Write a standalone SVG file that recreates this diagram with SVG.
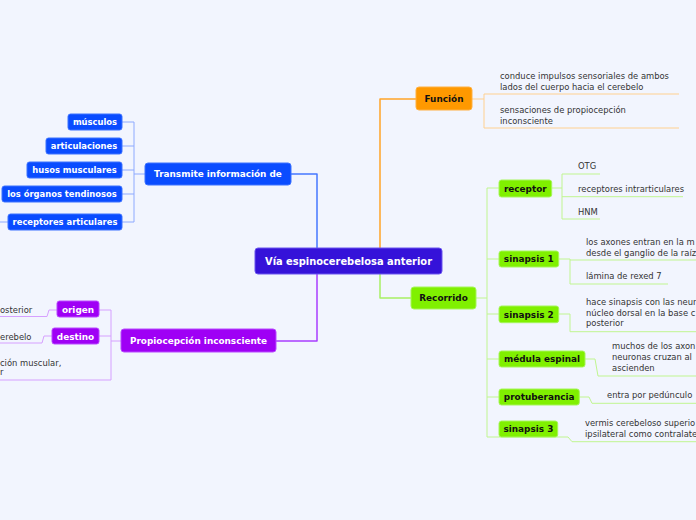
<svg xmlns="http://www.w3.org/2000/svg" width="696" height="520" viewBox="0 0 696 520">
<style>
.b{font-family:"DejaVu Sans",Verdana,sans-serif;font-weight:bold;text-anchor:middle}
.t{font-family:"DejaVu Sans",Verdana,sans-serif;font-size:8.4px;fill:#333}
.w{fill:#fff}
.k{fill:#111}
.nb{fill:#0a4cff;stroke:#3d72ff;stroke-width:1}
.np{fill:#9f00f5;stroke:#b848ff;stroke-width:1}
.ng{fill:#80f000;stroke:#a6f55a;stroke-width:1}
.no{fill:#ff9900;stroke:#ffb040;stroke-width:1}
.l{fill:none;stroke-linejoin:round}
</style>
<rect width="696" height="520" fill="#f2f5fe"/>
<g id="connectors">
 <path class="l" d="M291,174 H317 V248" stroke="#4577ff" stroke-width="1.5"/>
 <path class="l" d="M276,341 H317 V274" stroke="#a93cff" stroke-width="1.5"/>
 <path class="l" d="M380,248 V99 H416" stroke="#ffa428" stroke-width="1.5"/>
 <path class="l" d="M380,274 V298 H411" stroke="#a8f064" stroke-width="1.5"/>
 <g stroke="#8eaaff" stroke-width="1" class="l">
  <path d="M145,174 H134 M134,122 V222 M122,122 H134 M122,146 H134 M122,170 H134 M122,194 H134 M122,222 H134 M0,222 H8"/>
 </g>
 <g stroke="#d6a0ff" stroke-width="1" class="l">
  <path d="M121,341 H111 M111,310 V380 M99,310 H111 M99,336 H111 M0,380 H111 M57,310 H49 L47,316.5 H0 M52,336 H44 L42,343 H0"/>
 </g>
 <g stroke="#ffd090" stroke-width="1" class="l">
  <path d="M472,99 H484 M484,94 V128 M484,94 H679 M484,128 H679"/>
 </g>
 <g stroke="#c0f590" stroke-width="1" class="l">
  <path d="M476,298 H487 M487,188 V437 M487,188 H499 M487,259 H499 M487,314 H499 M487,359 H499 M487,397 H499 M487,437 H568 L572,441.7 H696"/>
  <path d="M551.7,188 H562 M562,174 V219 M562,174 H600 M562,196.7 H683 M562,219 H600"/>
  <path d="M558.7,259 H570 M570,260 H696 M570,259 V284 H668"/>
  <path d="M558.7,314 H570 V331.7 H696"/>
  <path d="M585,359 H595 L598,376 H696"/>
  <path d="M579,397 H589 L592,403.3 H696"/>
 </g>
</g>
<g id="central">
 <rect x="255" y="248" width="187" height="26" rx="3" fill="#3512d9" stroke="#6a55ee"/>
 <text class="b w" x="348.5" y="265" font-size="9.9">Vía espinocerebelosa anterior</text>
</g>
<g id="transmite">
 <rect class="nb" x="145" y="163" width="146" height="22" rx="3"/>
 <text class="b w" x="218" y="177.3" font-size="8.9">Transmite información de</text>
</g>
<g id="musculos"><rect class="nb" x="68" y="114" width="54" height="16" rx="2.5"/><text class="b w" x="95" y="125" font-size="8.4">músculos</text></g>
<g id="articulaciones"><rect class="nb" x="46" y="138" width="76" height="16" rx="2.5"/><text class="b w" x="84" y="149" font-size="8.4">articulaciones</text></g>
<g id="husos"><rect class="nb" x="27" y="162" width="95" height="16" rx="2.5"/><text class="b w" x="74.5" y="173" font-size="8.4">husos musculares</text></g>
<g id="organos"><rect class="nb" x="2" y="186" width="120" height="16" rx="2.5"/><text class="b w" x="62" y="197" font-size="8.4">los órganos tendinosos</text></g>
<g id="receptores-art"><rect class="nb" x="8" y="214" width="114" height="16" rx="2.5"/><text class="b w" x="65" y="225" font-size="8.4">receptores articulares</text></g>
<g id="propiocepcion">
 <rect class="np" x="121" y="329" width="155" height="23" rx="3"/>
 <text class="b w" x="198.5" y="344" font-size="8.9">Propiocepción inconsciente</text>
</g>
<g id="origen"><rect class="np" x="57" y="301" width="42" height="16" rx="2.5"/><text class="b w" x="78" y="312.5" font-size="8.9">origen</text>
 <text class="t" x="0" y="313">osterior</text></g>
<g id="destino"><rect class="np" x="52" y="328" width="47" height="16" rx="2.5"/><text class="b w" x="75.5" y="339.5" font-size="8.9">destino</text>
 <text class="t" x="0" y="339.5">erebelo</text></g>
<g id="propio-3">
 <text class="t" x="0" y="365.5">ción muscular,</text>
 <text class="t" x="0" y="375">r</text>
</g>
<g id="funcion">
 <rect class="no" x="416" y="87" width="56" height="23" rx="3"/>
 <text class="b k" x="444" y="102" font-size="8.9">Función</text>
 <text class="t" x="500" y="79">conduce impulsos sensoriales de ambos</text>
 <text class="t" x="500" y="89.5">lados del cuerpo hacia el cerebelo</text>
 <text class="t" x="500" y="113.3">sensaciones de propiocepción</text>
 <text class="t" x="500" y="123.8">inconsciente</text>
</g>
<g id="recorrido">
 <rect class="ng" x="411" y="287" width="65" height="22" rx="3"/>
 <text class="b k" x="443.5" y="301.3" font-size="8.9">Recorrido</text>
</g>
<g id="receptor"><rect class="ng" x="499" y="180" width="52.7" height="17" rx="2.5"/><text class="b k" x="525.3" y="191.7" font-size="8.9">receptor</text>
 <text class="t" x="578" y="168.7">OTG</text>
 <text class="t" x="578" y="192">receptores intrarticulares</text>
 <text class="t" x="578" y="215">HNM</text></g>
<g id="sinapsis1"><rect class="ng" x="499" y="251" width="59.7" height="16" rx="2.5"/><text class="b k" x="528.8" y="262.2" font-size="8.9">sinapsis 1</text>
 <text class="t" x="586" y="245.3">los axones entran en la m</text>
 <text class="t" x="586" y="256.3">desde el ganglio de la raíz</text>
 <text class="t" x="586" y="278.7">lámina de rexed 7</text></g>
<g id="sinapsis2"><rect class="ng" x="499" y="306" width="59.7" height="16.7" rx="2.5"/><text class="b k" x="528.8" y="317.6" font-size="8.9">sinapsis 2</text>
 <text class="t" x="586" y="304.7">hace sinapsis con las neur</text>
 <text class="t" x="586" y="315.6">núcleo dorsal en la base c</text>
 <text class="t" x="586" y="326.3">posterior</text></g>
<g id="medula"><rect class="ng" x="499" y="351" width="86" height="16" rx="2.5"/><text class="b k" x="542" y="362.2" font-size="8.9">médula espinal</text>
 <text class="t" x="612" y="349.3">muchos de los axon</text>
 <text class="t" x="612" y="360.2">neuronas cruzan al</text>
 <text class="t" x="612" y="371">ascienden</text></g>
<g id="protuberancia"><rect class="ng" x="499" y="389" width="80.3" height="16" rx="2.5"/><text class="b k" x="539.2" y="400.2" font-size="8.9">protuberancia</text>
 <text class="t" x="607" y="398">entra por pedúnculo</text></g>
<g id="sinapsis3"><rect class="ng" x="499" y="421" width="58.7" height="16" rx="2.5"/><text class="b k" x="528.4" y="432.2" font-size="8.9">sinapsis 3</text>
 <text class="t" x="585" y="425.7">vermis cerebeloso superio</text>
 <text class="t" x="585" y="436.6">ipsilateral como contralate</text></g>
</svg>
